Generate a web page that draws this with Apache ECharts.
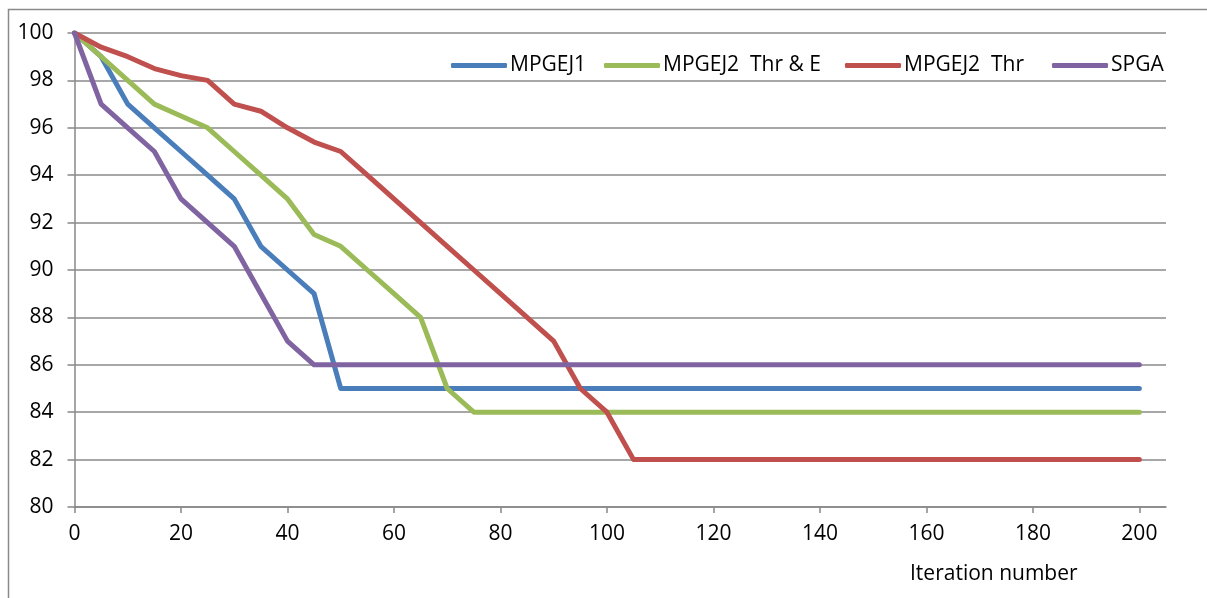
<!DOCTYPE html>
<html>
<head>
<meta charset="utf-8">
<script src="https://cdn.jsdelivr.net/npm/echarts@6/dist/echarts.min.js"></script>
<style>html,body{margin:0;padding:0;background:#fff;}#c{width:1207px;height:598px;}</style>
</head>
<body>
<div id="c"></div>
<script>
const iterations = [0,5,10,15,20,25,30,35,40,45,50,55,60,65,70,75,80,85,90,95,100,105,110,115,120,125,130,135,140,145,150,155,160,165,170,175,180,185,190,195,200];
const seriesNames = ['MPGEJ1', 'MPGEJ2  Thr & E', 'MPGEJ2  Thr', 'SPGA'];
const mpgej1 = [100,99,97,96,95,94,93,91,90,89,85,85,85,85,85,85,85,85,85,85,85,85,85,85,85,85,85,85,85,85,85,85,85,85,85,85,85,85,85,85,85];
const mpgej2ThrE = [100,99,98,97,96.5,96,95,94,93,91.5,91,90,89,88,85,84,84,84,84,84,84,84,84,84,84,84,84,84,84,84,84,84,84,84,84,84,84,84,84,84,84];
const mpgej2Thr = [100,99.4,99,98.5,98.2,98,97,96.7,96,95.4,95,94,93,92,91,90,89,88,87,85,84,82,82,82,82,82,82,82,82,82,82,82,82,82,82,82,82,82,82,82,82];
const spga = [100,97,96,95,93,92,91,89,87,86,86,86,86,86,86,86,86,86,86,86,86,86,86,86,86,86,86,86,86,86,86,86,86,86,86,86,86,86,86,86,86];
const xTicks = [0,20,40,60,80,100,120,140,160,180,200];
const yTicks = [80,82,84,86,88,90,92,94,96,98,100];
const xAxisTitle = 'Iteration number';

const colors = ['#4A7EBB', '#9BBB59', '#C0504D', '#8064A2'];
const allValues = [mpgej1, mpgej2ThrE, mpgej2Thr, spga];
const legendLefts = [451, 604, 845, 1052];
const FONT = 'Open Sans';
const FS = 21;

const chart = echarts.init(document.getElementById('c'), null, {renderer: 'canvas'});
chart.setOption({
  animation: false,
  backgroundColor: '#fff',
  color: colors,
  grid: {left: 74.5, right: 41, top: 33, bottom: 91, containLabel: false},
  legend: seriesNames.map((n, i) => ({
    left: legendLefts[i], top: 55, padding: 0,
    itemWidth: 56, itemHeight: 5,
    icon: 'roundRect',
    textStyle: {fontFamily: FONT, fontSize: FS, color: '#000', padding: [0,0,0,-2]},
    data: [n]
  })),
  xAxis: {
    type: 'value', min: 0, max: 205, interval: 20,
    axisLine: {show: true, lineStyle: {color: '#888', width: 1.5}},
    axisTick: {show: true, length: 6, customValues: xTicks, lineStyle: {color: '#888', width: 1.5}},
    axisLabel: {customValues: xTicks, fontFamily: FONT, fontSize: FS, color: '#000', margin: 17},
    splitLine: {show: false}
  },
  yAxis: {
    type: 'value', min: 80, max: 100, interval: 2,
    axisLine: {show: true, lineStyle: {color: '#888', width: 1.5}},
    axisTick: {show: true, length: 7, lineStyle: {color: '#888', width: 1.5}},
    axisLabel: {fontFamily: FONT, fontSize: FS, color: '#000', margin: 21},
    splitLine: {show: true, lineStyle: {color: '#8a8a8a', width: 1.5}}
  },
  graphic: [
    {type: 'rect', silent: true, z: -10, shape: {x: 8.5, y: 9.5, width: 1400, height: 800},
     style: {fill: null, stroke: '#8a8a8a', lineWidth: 1.5}},
    {type: 'text', left: 910, top: 564, style: {text: xAxisTitle, fontFamily: FONT, fontSize: FS, fill: '#000'}}
  ],
  series: allValues.map((vals, i) => ({
    name: seriesNames[i],
    type: 'line',
    showSymbol: false,
    symbol: 'none',
    data: iterations.map((x, j) => [x, vals[j]]),
    lineStyle: {width: 5, color: colors[i], cap: 'round', join: 'round'},
    itemStyle: {color: colors[i]},
    z: 2 + i
  }))
});
</script>
</body>
</html>
